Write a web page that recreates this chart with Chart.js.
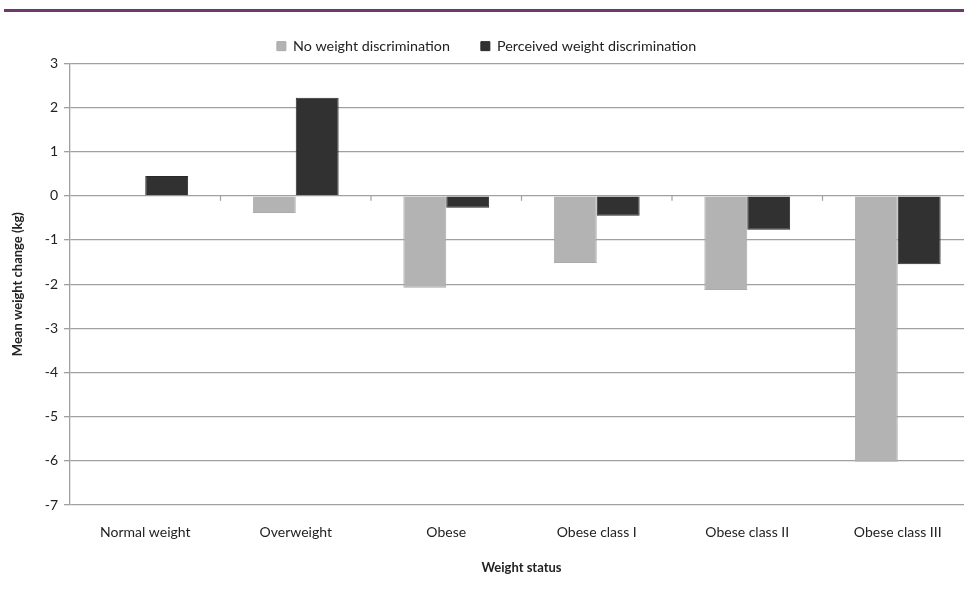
<!DOCTYPE html>
<html>
<head>
<meta charset="utf-8">
<script src="https://cdn.jsdelivr.net/npm/chart.js@4/dist/chart.umd.min.js"></script>
<style>
  html, body { margin: 0; padding: 0; background: #fff; overflow: hidden; }
  #wrap { position: absolute; left: 0; top: 0; width: 980px; height: 596px; }
  #topline { position: absolute; left: 4px; top: 9px; width: 960px; height: 3px; background: #6b3a6e; z-index: 2; }
</style>
</head>
<body>
<div id="topline"></div>
<div id="wrap"><canvas id="grafico"></canvas></div>
<script>
// categorias e valores (kg)
const categorias = ['Normal weight', 'Overweight', 'Obese', 'Obese class I', 'Obese class II', 'Obese class III'];
const semDiscriminacao = [0, -0.39, -2.08, -1.52, -2.13, -6.02];
const comDiscriminacao = [0.45, 2.22, -0.27, -0.45, -0.77, -1.55];
const ticksY = [3, 2, 1, 0, -1, -2, -3, -4, -5, -6, -7];

const corTexto = '#222';
const corGrade = '#a0a0a0';

// pequenos traços no eixo zero, entre as categorias
const tracosZero = {
    id: 'tracosZero',
    afterDatasetsDraw(chart) {
        const x = chart.scales.x, y = chart.scales.y;
        const y0 = y.getPixelForValue(0);
        const c = chart.ctx;
        c.save();
        c.strokeStyle = corGrade;
        c.lineWidth = 1.2;
        for (let i = 1; i < categorias.length; i++) {
            const px = (x.getPixelForValue(i - 1) + x.getPixelForValue(i)) / 2;
            c.beginPath();
            c.moveTo(px, y0);
            c.lineTo(px, y0 + 5);
            c.stroke();
        }
        c.restore();
    }
};

// legenda com itens mais afastados, mas altura fixa
const alturaLegenda = {
    id: 'alturaLegenda',
    beforeInit(chart) {
        if (chart.legend) {
            chart.legend.afterFit = function () { this.height = 58; };
        }
    }
};

new Chart(document.getElementById('grafico'), {
    type: 'bar',
    data: {
        labels: categorias,
        datasets: [{
            label: 'No weight discrimination',
            data: semDiscriminacao,
            backgroundColor: '#b3b3b3',
            borderColor: '#aaaaaa',
            borderWidth: 1,
            barPercentage: 1,
            categoryPercentage: 0.57
        }, {
            label: 'Perceived weight discrimination',
            data: comDiscriminacao,
            backgroundColor: '#313131',
            borderColor: '#2a2a2a',
            borderWidth: 1,
            barPercentage: 1,
            categoryPercentage: 0.57
        }]
    },
    options: {
        responsive: true,
        maintainAspectRatio: false,
        animation: false,
        layout: { padding: { top: 8, right: 7, left: 0, bottom: 0 } },
        plugins: {
            tooltip: { enabled: false },
            legend: {
                position: 'top',
                labels: {
                    boxWidth: 9,
                    boxHeight: 9,
                    padding: 31,
                    color: corTexto,
                    font: { family: 'Lato', size: 14.3 }
                }
            }
        },
        scales: {
            x: {
                grid: { display: false },
                border: { display: false },
                ticks: { color: corTexto, padding: 11, font: { family: 'Lato', size: 14 }, maxRotation: 0 },
                title: {
                    display: true,
                    text: 'Weight status',
                    color: corTexto,
                    font: { family: 'Lato', size: 13, weight: 'bold' },
                    padding: { top: 0, bottom: 20 }
                },
                afterFit(scale) { scale.height = 91; }
            },
            y: {
                min: -7,
                max: 3,
                afterBuildTicks(scale) { scale.ticks = ticksY.map(v => ({ value: v })); },
                grid: { color: corGrade, lineWidth: 1.3, tickLength: 6 },
                border: { color: corGrade, width: 1.3 },
                ticks: { color: corTexto, padding: 6, font: { family: 'Lato', size: 14 } },
                title: {
                    display: true,
                    text: 'Mean weight change (kg)',
                    color: corTexto,
                    font: { family: 'Lato', size: 13, weight: 'bold' },
                    padding: { top: 10, bottom: 0 }
                },
                afterFit(scale) { scale.width = 70; }
            }
        }
    },
    plugins: [tracosZero, alturaLegenda]
});
</script>
</body>
</html>
